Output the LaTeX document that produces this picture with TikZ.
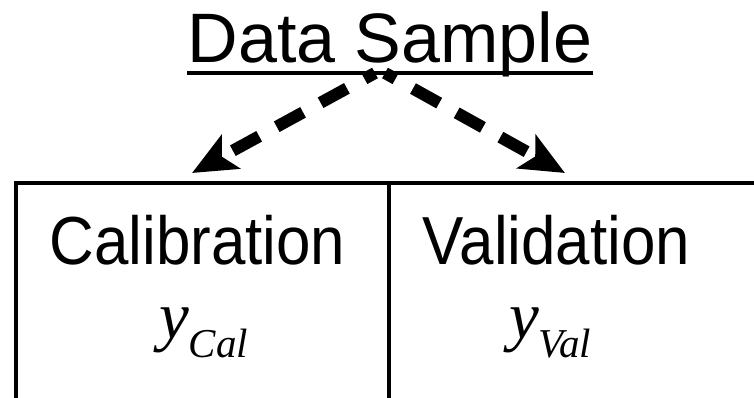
\documentclass[tikz,border=0pt]{standalone}
\usepackage{fontspec}
\setmainfont{Liberation Sans}
\newfontfamily\tnr{Liberation Serif}
\usetikzlibrary{arrows.meta}

\begin{document}
\begin{tikzpicture}[x=1pt,y=1pt,
rule/.style={line width=4pt},
split/.style={line width=12pt,dash pattern=on 30pt off 20pt,dash phase=18pt,
  -{Stealth[length=44pt,width=38pt,inset=10pt]}},
part/.style={inner sep=0pt,anchor=base,xscale=.91,transform shape,
  font=\fontsize{68}{68}\selectfont},
sym/.style={inner sep=0pt,anchor=base west,font=\tnr\itshape\fontsize{67}{67}\selectfont}]
\useasboundingbox (0,0) rectangle (754,-397);
\node (sample) [inner sep=0pt,anchor=base,font=\fontsize{70}{70}\selectfont] at (390,-62) {Data Sample};
\draw[rule] ([yshift=-11pt]sample.base west) -- ([yshift=-11pt]sample.base east);
\coordinate (from) at (380,-73);
\coordinate (calTip) at (192,-173);
\coordinate (valTip) at (565,-173);
\draw[split] ([xshift=-5pt]from) -- (calTip);
\draw[split] ([xshift=5pt]from) -- (valTip);
\draw[rule] (16,-400) |- (760,-183);
\draw[rule] (389,-183) -- (389,-400);
\node (cal) [part] at (197.5,-264) {Calibration};
\node (val) [part] at (556.5,-264) {Validation};
\node (yCal) [sym] at (159,-338) {y\raisebox{-19pt}{\fontsize{41}{41}\selectfont Cal}};
\node (yVal) [sym] at (509,-338) {y\raisebox{-19pt}{\fontsize{41}{41}\selectfont Val}};
\end{tikzpicture}
\end{document}
